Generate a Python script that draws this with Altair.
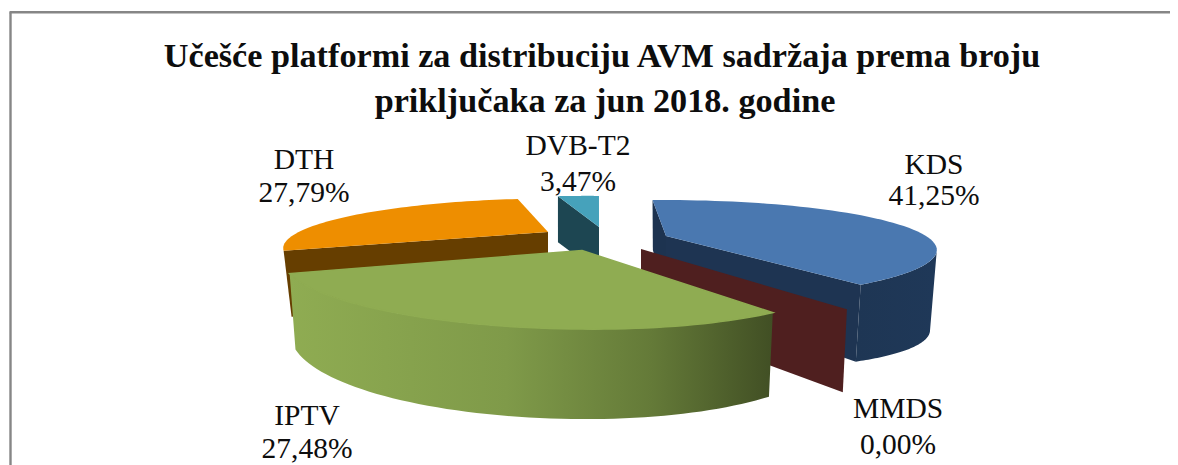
import numpy as np
import altair as alt

names = ["KDS", "MMDS", "IPTV", "DTH", "DVB-T2"]
shares = [41.25, 0.00, 27.48, 27.79, 3.47]
share_labels = ["41,25%", "0,00%", "27,48%", "27,79%", "3,47%"]
title_lines = ["Učešće platformi za distribuciju  AVM sadržaja prema broju",
               "priključaka za jun 2018. godine"]

W, H = 1162, 457
OX, OY = 8, 8
START = -93.8
edges = START + np.concatenate([[0], np.cumsum(shares)]) / sum(shares) * 360
ang = {n: (edges[i], edges[i + 1]) for i, n in enumerate(names)}

# per-slice perspective (explosion and view)
G = {
    "KDS":    dict(ax=666, ay=236, A=260, u=0, B=46, s=0, k=.28, m=0, xs=.975, d=(59.3, 8.07, 19.2)),
    "MMDS":   dict(ax=641, ay=249, A=275, u=0, B=52, s=7, k=.28, m=0, xs=.98, d=(83, 0, 0)),
    "IPTV":   dict(ax=582, ay=250.5, A=267, u=0, B=56.6, s=7, k=.28, m=-.064, xs=.98, d=(62.3, 27.7, -1.6)),
    "DTH":    dict(ax=548, ay=232, A=243, u=-31, B=42.8, s=2.9, k=.28, m=0, xs=.97, d=(66, 0, 0)),
    "DVB-T2": dict(ax=599, ay=227, A=240, u=-15.9, B=39.6, s=4, k=.28, m=0, xs=1, d=(46, 0, 0)),
}


def top(g, t):
    t = np.radians(t)
    c, s = np.cos(t), np.sin(t)
    den = 1 - g["k"] * s - g["m"] * c
    return (g["A"] * c + g["u"] * s) / den, (g["B"] * s + g["s"] * c) / den, c, s


def p_top(g, t):
    X, Y, _, _ = top(g, t)
    return [g["ax"] + X - OX, g["ay"] + Y - OY]


def p_bot(g, t):
    X, Y, c, s = top(g, t)
    d0, d1, d2 = g["d"]
    return [g["ax"] + X * g["xs"] - OX, g["ay"] + Y + d0 + d1 * s + d2 * c - OY]


def apex(g, depth=0.0):
    return [g["ax"] - OX, g["ay"] + depth - OY]


def arc(g, a, b, f):
    return [f(g, t) for t in np.linspace(a, b, 60)]


def face(ring, fill, edge=None):
    ring = ring + [ring[0]]
    feat = {"type": "Feature", "properties": {},
            "geometry": {"type": "Polygon", "coordinates": [[[float(x), float(y)] for x, y in ring]]}}
    style = {"stroke": edge, "strokeWidth": 1.5} if edge else {"strokeWidth": 0}
    return (alt.Chart(alt.Data(values=[feat])).mark_geoshape(fill=fill, **style)
            .project(type="identity", scale=1, translate=[0, 0]))


def top_face(n, fill, edge=None):
    g = G[n]
    a, b = ang[n]
    return face([apex(g)] + arc(g, a, b, p_top), fill, edge)


def side_face(n, fill, first=None):
    g = G[n]
    a, b = ang[n]
    a = a if first is None else max(a, first)
    return face(arc(g, a, b, p_top) + arc(g, a, b, p_bot)[::-1], fill)


def wall(n, t, depth, fill):
    g = G[n]
    return face([p_top(g, t), apex(g), apex(g, depth), p_bot(g, t)], fill)


def grad(*stops):
    return alt.LinearGradient(gradient="linear", x1=0, x2=1, y1=0, y2=0,
                              stops=[alt.GradientStop(offset=o, color=c) for o, c in stops])


layers = []
layers += [wall("DVB-T2", ang["DVB-T2"][0], 46, "#1d4652"), top_face("DVB-T2", "#46a2bb")]
layers += [wall("DTH", ang["DTH"][0], 70, "#663e00"), top_face("DTH", "#ee8e00")]
layers += [side_face("KDS", grad((0, "#1e3654"), (1, "#1f3858")), first=16.3),
           wall("KDS", ang["KDS"][0], 60, "#1d3350"),
           wall("KDS", ang["KDS"][1], 60, "#1e3452"),
           top_face("KDS", "#4a78b0")]
layers += [wall("MMDS", ang["MMDS"][0], 69, "#4f1f1f")]
layers += [side_face("IPTV", grad((0, "#8fac52"), (.45, "#7f9a49"), (.75, "#647a38"), (1, "#414f24"))),
           top_face("IPTV", "#8fac52", "#8fac52")]


def text(s, x, y, size=29.5, weight="normal"):
    return alt.Chart(alt.Data(values=[{"t": s}])).mark_text(
        font="Liberation Serif", fontSize=size, fontWeight=weight, color="#0d0d0d",
        align="center", baseline="alphabetic").encode(text="t:N", x=alt.value(x - OX), y=alt.value(y - OY))


label_pos = {"KDS": (934, 174, 205), "MMDS": (898, 418, 454), "IPTV": (307, 425, 458),
             "DTH": (304, 169, 202), "DVB-T2": (578, 155, 191)}
for n, lab in zip(names, share_labels):
    x, y1, y2 = label_pos[n]
    layers += [text(n, x, y1), text(lab, x, y2)]
layers += [text(title_lines[0], 602, 67, 34.2, "bold"), text(title_lines[1], 605, 112, 34.2, "bold")]

frame_x = alt.Chart(alt.Data(values=[{"a": 0}])).mark_rule(color="#868686", strokeWidth=2.4).encode(
    x=alt.value(1.5), x2=alt.value(W), y=alt.value(4.2))
frame_y = alt.Chart(alt.Data(values=[{"a": 0}])).mark_rule(color="#868686", strokeWidth=2.4).encode(
    x=alt.value(2.5), y=alt.value(4.2), y2=alt.value(H))
layers += [frame_x, frame_y]

chart = alt.layer(*layers).properties(width=W, height=H, padding=0, background="white",
                                      autosize=alt.AutoSizeParams(type="none")).configure_view(stroke=None)
chart.save("out.html", embed_options={"renderer": "svg", "actions": False})
